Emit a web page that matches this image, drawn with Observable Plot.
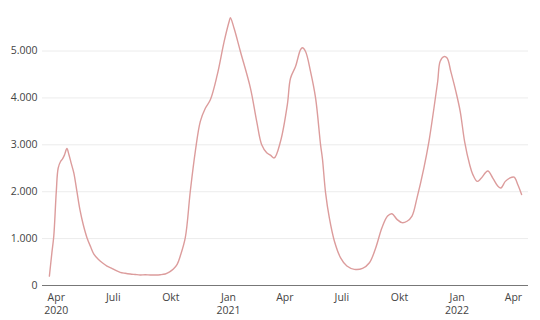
<!DOCTYPE html>
<html>
<head>
<meta charset="utf-8">
<script src="https://cdn.jsdelivr.net/npm/d3@7"></script>
<script src="https://cdn.jsdelivr.net/npm/@observablehq/plot@0.6"></script>
<style>
  html, body { margin: 0; padding: 0; background: #fff; }
</style>
</head>
<body>
<div id="chart"></div>
<script>
const dates = [
  "2020-03-21","2020-03-25","2020-03-28","2020-04-01","2020-04-04","2020-04-08","2020-04-11","2020-04-14",
  "2020-04-18","2020-04-21","2020-04-25","2020-04-29","2020-05-04","2020-05-09","2020-05-14","2020-05-20",
  "2020-05-26","2020-05-31","2020-06-07","2020-06-14","2020-06-21","2020-06-28","2020-07-05","2020-07-12",
  "2020-07-20","2020-07-28","2020-08-05","2020-08-13","2020-08-21","2020-08-29","2020-09-06","2020-09-14",
  "2020-09-22","2020-09-29","2020-10-05","2020-10-11","2020-10-16","2020-10-24","2020-11-01","2020-11-09",
  "2020-11-17","2020-11-25","2020-12-03","2020-12-14","2020-12-25","2021-01-02","2021-01-04","2021-01-10",
  "2021-01-20","2021-02-05","2021-02-15","2021-02-23","2021-03-03","2021-03-09","2021-03-15","2021-03-25",
  "2021-04-05","2021-04-10","2021-04-18","2021-04-26","2021-04-29","2021-05-04","2021-05-12","2021-05-20",
  "2021-05-28","2021-05-31","2021-06-05","2021-06-11","2021-06-19","2021-06-29","2021-07-09","2021-07-21",
  "2021-08-03","2021-08-14","2021-08-24","2021-09-03","2021-09-12","2021-09-19","2021-09-27","2021-10-05",
  "2021-10-13","2021-10-21","2021-10-29","2021-11-09","2021-11-17","2021-11-25","2021-12-01","2021-12-05",
  "2021-12-11","2021-12-16","2021-12-22","2021-12-30","2022-01-06","2022-01-13","2022-01-21","2022-01-26",
  "2022-02-02","2022-02-08","2022-02-19","2022-02-27","2022-03-07","2022-03-12","2022-03-19","2022-03-26",
  "2022-04-02","2022-04-08","2022-04-14"
];
const values = [
  200, 700, 1050, 2000, 2500, 2650, 2700, 2780,
  2920, 2800, 2600, 2400, 2000, 1600, 1300, 1020,
  820, 670, 560, 480, 415, 370, 320, 280,
  260, 245, 235, 225, 230, 225, 225, 230,
  245, 290, 350, 450, 630, 1020, 2010, 2860,
  3500, 3780, 3960, 4490, 5200, 5630, 5710, 5480,
  4990, 4210, 3500, 3000, 2830, 2780, 2720, 3070,
  3860, 4420, 4670, 5030, 5070, 4990, 4560, 4000,
  3000, 2700, 1975, 1440, 950, 590, 415, 345,
  365, 485, 800, 1230, 1480, 1530, 1410, 1340,
  1370, 1480, 1870, 2510, 3070, 3780, 4350, 4780,
  4880, 4850, 4560, 4140, 3710, 3070, 2580, 2370,
  2220, 2280, 2440, 2290, 2120, 2080, 2220, 2290,
  2310, 2150, 1940
];
const yTicks = [0, 1000, 2000, 3000, 4000, 5000];
const xTicks = ["2020-04-01","2020-07-01","2020-10-01","2021-01-01","2021-04-01","2021-07-01","2021-10-01","2022-01-01","2022-04-01"];
const monthNames = {0: "Jan", 3: "Apr", 6: "Juli", 9: "Okt"};

const data = dates.map((d, i) => ({date: new Date(d), value: values[i]}));
const xTickDates = xTicks.map(d => new Date(d));
const deFormat = d3.formatLocale({decimal: ",", thousands: ".", grouping: [3], currency: ["", " €"]}).format(",");

const chart = Plot.plot({
  width: 540,
  height: 320,
  marginTop: 13,
  marginBottom: 35,
  marginLeft: 42,
  marginRight: 12,
  style: {fontFamily: "'Open Sans', sans-serif", fontSize: "10.5px", color: "#444", background: "#fff"},
  x: {type: "utc", domain: [new Date("2020-03-10"), new Date("2022-04-25")]},
  y: {domain: [0, 5800]},
  marks: [
    Plot.gridY(yTicks, {stroke: "#ececec", strokeOpacity: 1}),
    Plot.axisY(yTicks, {tickSize: 0, tickPadding: 5, tickFormat: deFormat, label: null}),
    Plot.axisX(xTickDates, {
      tickSize: 0, tickPadding: 6, label: null, lineHeight: 1.25,
      tickFormat: (d, i) => {
        const m = monthNames[d.getUTCMonth()];
        return (d.getUTCMonth() === 0 || i === 0) ? m + "\n" + d.getUTCFullYear() : m;
      }
    }),
    Plot.ruleY([0], {stroke: "#777", strokeWidth: 1}),
    Plot.line(data, {x: "date", y: "value", stroke: "#dc9c9c", strokeWidth: 1.4, curve: "catmull-rom"})
  ]
});
document.getElementById("chart").appendChild(chart);
</script>
</body>
</html>
